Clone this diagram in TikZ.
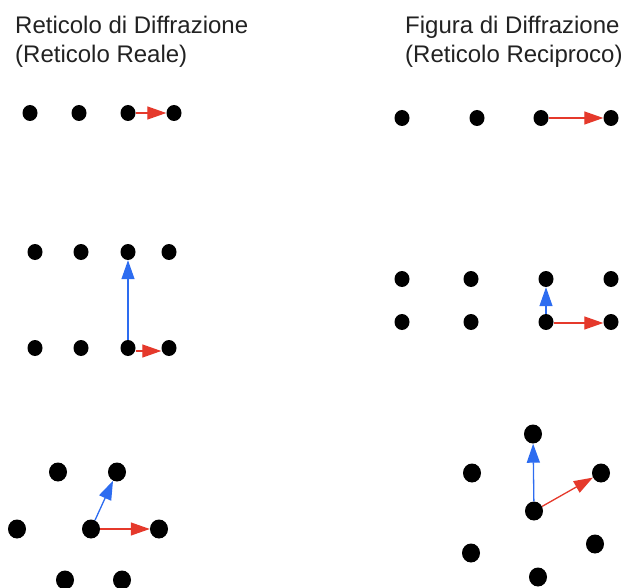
\documentclass[tikz,border=0pt]{standalone}
\usepackage{fontspec}
\setmainfont{Liberation Sans}
\usetikzlibrary{arrows.meta,shapes.geometric}
\definecolor{vred}{RGB}{229,57,43}
\definecolor{vblue}{RGB}{45,108,240}
\definecolor{ttl}{RGB}{34,34,34}
\begin{document}
\begin{tikzpicture}[x=1pt,y=-1pt,
  dot/.style={ellipse,fill=black,inner sep=0pt,minimum width=15pt,minimum height=16pt},
  bigdot/.style={dot,minimum width=18pt,minimum height=19pt},
  vec/.style={line width=1.3pt,-{Triangle[length=19pt,width=13pt]}},
  redvec/.style={vec,draw=vred,fill=vred},
  bluevec/.style={vec,draw=vblue,fill=vblue},
  ttlnode/.style={anchor=base west,inner sep=0pt,text=ttl,font=\fontsize{24}{29}\selectfont}]
\useasboundingbox (0,0) rectangle (629,588);
% titles
\node[ttlnode] (tl1) at (15,34) {Reticolo di Diffrazione};
\node[ttlnode] (tl2) at (15,63) {(Reticolo Reale)};
\node[ttlnode] (tr1) at (405,34) {Figura di Diffrazione};
\node[ttlnode] (tr2) at (405,63) {(Reticolo Reciproco)};
% row 1 left
\node[dot] (a1) at (30,113) {};
\node[dot] (a2) at (79,113) {};
\node[dot] (a3) at (128,113) {};
\node[dot] (a4) at (174,113) {};
\draw[redvec] (a3) -- (a4);
% row 1 right
\node[dot] (p1) at (402,118) {};
\node[dot] (p2) at (477,118) {};
\node[dot] (p3) at (541,118) {};
\node[dot] (p4) at (611,118) {};
\draw[redvec] (p3) -- (p4);
% middle left
\node[dot] (b1) at (35,252) {};
\node[dot] (b2) at (81,252) {};
\node[dot] (b3) at (128,252) {};
\node[dot] (b4) at (169,252) {};
\node[dot] (c1) at (35,348) {};
\node[dot] (c2) at (81,348) {};
\node[dot] (c3) at (128,348) {};
\node[dot] (c4) at (169,348) {};
\draw[bluevec] (c3) -- (b3);
\draw[redvec] ([yshift=-3pt]c3.east) -- ([yshift=-3pt]c4.west);
% middle right
\node[dot] (q1) at (402,279) {};
\node[dot] (q2) at (471,279) {};
\node[dot] (q3) at (546,279) {};
\node[dot] (q4) at (611,279) {};
\node[dot] (r1) at (402,322) {};
\node[dot] (r2) at (471,322) {};
\node[dot] (r3) at (546,322) {};
\node[dot] (r4) at (611,322) {};
\draw[bluevec] (r3) -- (q3);
\draw[redvec] ([yshift=-1pt]r3.east) -- ([yshift=-1pt]r4.west);
% bottom left
\node[bigdot] (d1) at (58,472) {};
\node[bigdot] (d2) at (117,472) {};
\node[bigdot] (d3) at (17,529) {};
\node[bigdot] (d4) at (91,529) {};
\node[bigdot] (d5) at (159,529) {};
\node[bigdot] (d6) at (65,580) {};
\node[bigdot] (d7) at (122,580) {};
\draw[bluevec] (d4) -- (d2);
\draw[redvec] (d4) -- (d5);
% bottom right
\node[bigdot] (e1) at (533,434) {};
\node[bigdot] (e2) at (472,473) {};
\node[bigdot] (e3) at (601,473) {};
\node[bigdot] (e4) at (534,511) {};
\node[bigdot] (e5) at (471,553) {};
\node[bigdot] (e6) at (595,544) {};
\node[bigdot] (e7) at (538,577) {};
\draw[bluevec] (e4) -- (e1);
\draw[redvec] (e4) -- (e3);
\end{tikzpicture}
\end{document}
